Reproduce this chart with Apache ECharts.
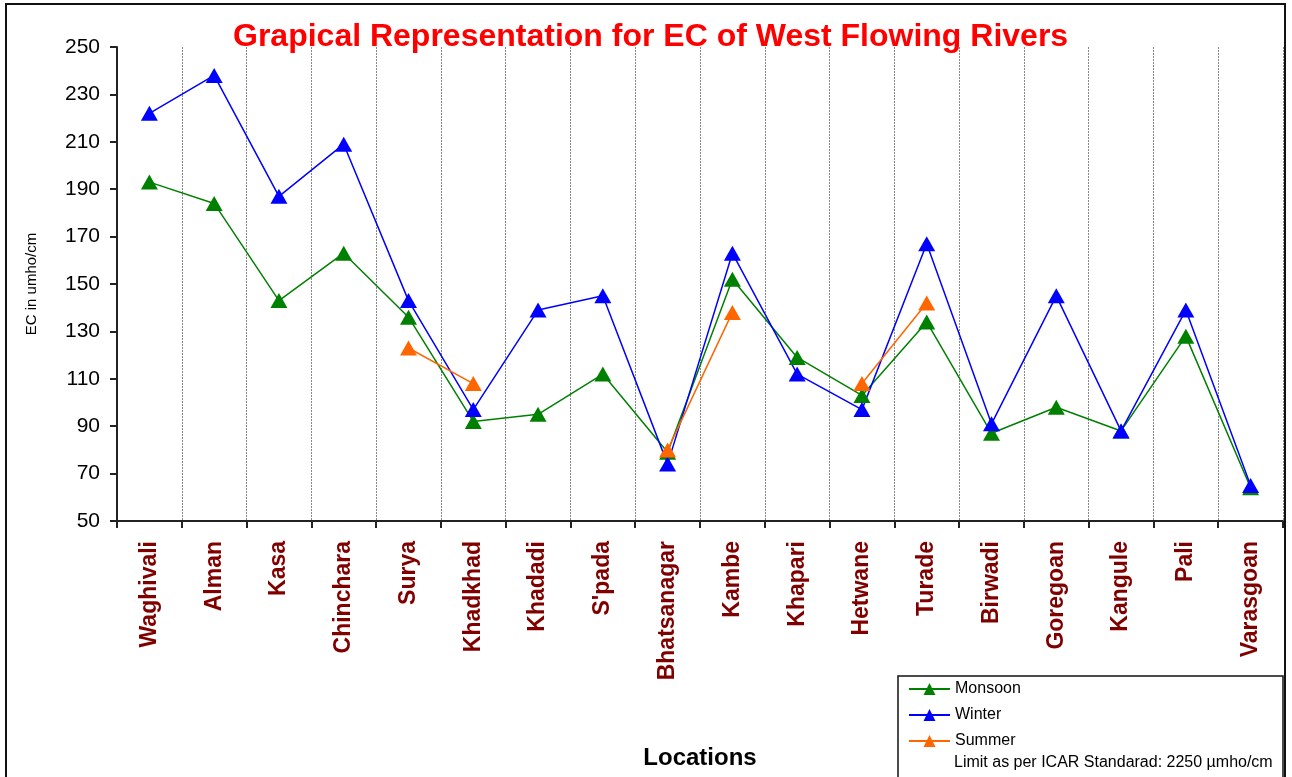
<!DOCTYPE html>
<html>
<head>
<meta charset="utf-8">
<title>EC of West Flowing Rivers</title>
<script src="https://cdn.jsdelivr.net/npm/echarts@6/dist/echarts.min.js"></script>
<style>
  html, body { margin: 0; padding: 0; background: #ffffff; }
  #chart { width: 1292px; height: 777px; }
</style>
</head>
<body>
<div id="chart"></div>
<script>
// Sampling locations along the west flowing rivers
const locations = ['Waghivali', 'Alman', 'Kasa', 'Chinchara', 'Surya', 'Khadkhad', 'Khadadi', "S'pada",
  'Bhatsanagar', 'Kambe', 'Khapari', 'Hetwane', 'Turade', 'Birwadi', 'Goregoan', 'Kangule', 'Pali', 'Varasgoan'];

// EC (umho/cm) per season
const monsoon = [193, 184, 143, 163, 136, 92, 95, 112, 79, 152, 119, 103, 134, 87, 98, 88, 128, 64];
const winter  = [222, 238, 187, 209, 143, 97, 139, 145, 74, 163, 112, 97, 167, 91, 145, 88, 139, 65];
const summer  = [null, null, null, null, 123, 108, null, null, 80, 138, null, 108, 142, null, null, null, null, null];

// Value axis ticks
const yTicks = [50, 70, 90, 110, 130, 150, 170, 190, 210, 230, 250];

const FONT = 'Arial, "Liberation Sans", sans-serif';

function seasonSeries(name, data, color) {
  return {
    name: name,
    type: 'line',
    data: data,
    connectNulls: false,
    symbol: 'triangle',
    symbolSize: [17, 15],
    lineStyle: { color: color, width: 1.5 },
    itemStyle: { color: color },
    emphasis: { disabled: true },
    animation: false
  };
}

const chart = echarts.init(document.getElementById('chart'), null, { renderer: 'canvas' });

chart.setOption({
  backgroundColor: '#ffffff',
  animation: false,
  title: {
    text: 'Grapical Representation for EC of West Flowing Rivers',
    left: 233,
    top: 21,
    padding: 0,
    textStyle: { color: '#ff0000', fontFamily: FONT, fontWeight: 'bold', fontSize: 32 }
  },
  grid: { left: 117, right: 9, top: 47, height: 474, containLabel: false, outerBoundsMode: 'none' },
  xAxis: {
    type: 'category',
    data: locations,
    boundaryGap: true,
    name: 'Locations',
    nameLocation: 'middle',
    nameGap: 225,
    nameTextStyle: { color: '#000000', fontFamily: FONT, fontWeight: 'bold', fontSize: 24 },
    axisLine: { lineStyle: { color: '#222222', width: 2 } },
    axisTick: { show: true, length: 7, lineStyle: { color: '#222222', width: 2 } },
    axisLabel: {
      rotate: 90,
      margin: 20,
      interval: 0,
      color: '#800000',
      fontFamily: FONT,
      fontWeight: 'bold',
      fontSize: 23
    },
    splitLine: { show: true, lineStyle: { color: '#888888', width: 1, type: [2, 1] } }
  },
  yAxis: {
    type: 'value',
    min: yTicks[0],
    max: yTicks[yTicks.length - 1],
    interval: yTicks[1] - yTicks[0],
    name: 'EC in umho/cm',
    nameLocation: 'middle',
    nameGap: 78,
    nameRotate: 90,
    nameTextStyle: { color: '#000000', fontFamily: FONT, fontSize: 15 },
    axisLine: { show: true, lineStyle: { color: '#222222', width: 2 } },
    axisTick: { show: true, length: 7, lineStyle: { color: '#222222', width: 2 } },
    axisLabel: { margin: 17, color: '#000000', fontFamily: FONT, fontSize: 21 },
    splitLine: { show: false }
  },
  legend: {
    orient: 'vertical',
    left: 908,
    top: 681,
    padding: 0,
    itemWidth: 41,
    itemHeight: 15,
    itemGap: 10,
    textStyle: { color: '#000000', fontFamily: FONT, fontSize: 16, lineHeight: 15, padding: [0, 0, 0, 0] },
    data: ['Monsoon', 'Winter', 'Summer'],
    selectedMode: false
  },
  graphic: [
    {
      type: 'rect',
      shape: { x: 6, y: 4, width: 1279, height: 790 },
      style: { fill: null, stroke: '#111111', lineWidth: 2 },
      silent: true,
      z: 100
    },
    {
      type: 'rect',
      shape: { x: 898, y: 676, width: 385, height: 120 },
      style: { fill: '#ffffff', stroke: '#111111', lineWidth: 1.5 },
      silent: true,
      z: -1
    },
    {
      type: 'text',
      x: 954,
      y: 763,
      style: {
        text: 'Limit as per ICAR Standarad: 2250 \u00b5mho/cm',
        fill: '#000000',
        font: '16px ' + FONT,
        verticalAlign: 'middle',
        align: 'left'
      },
      silent: true
    }
  ],
  series: [
    seasonSeries('Monsoon', monsoon, '#008000'),
    seasonSeries('Winter', winter, '#0000ff'),
    seasonSeries('Summer', summer, '#ff6600')
  ]
});
</script>
</body>
</html>
